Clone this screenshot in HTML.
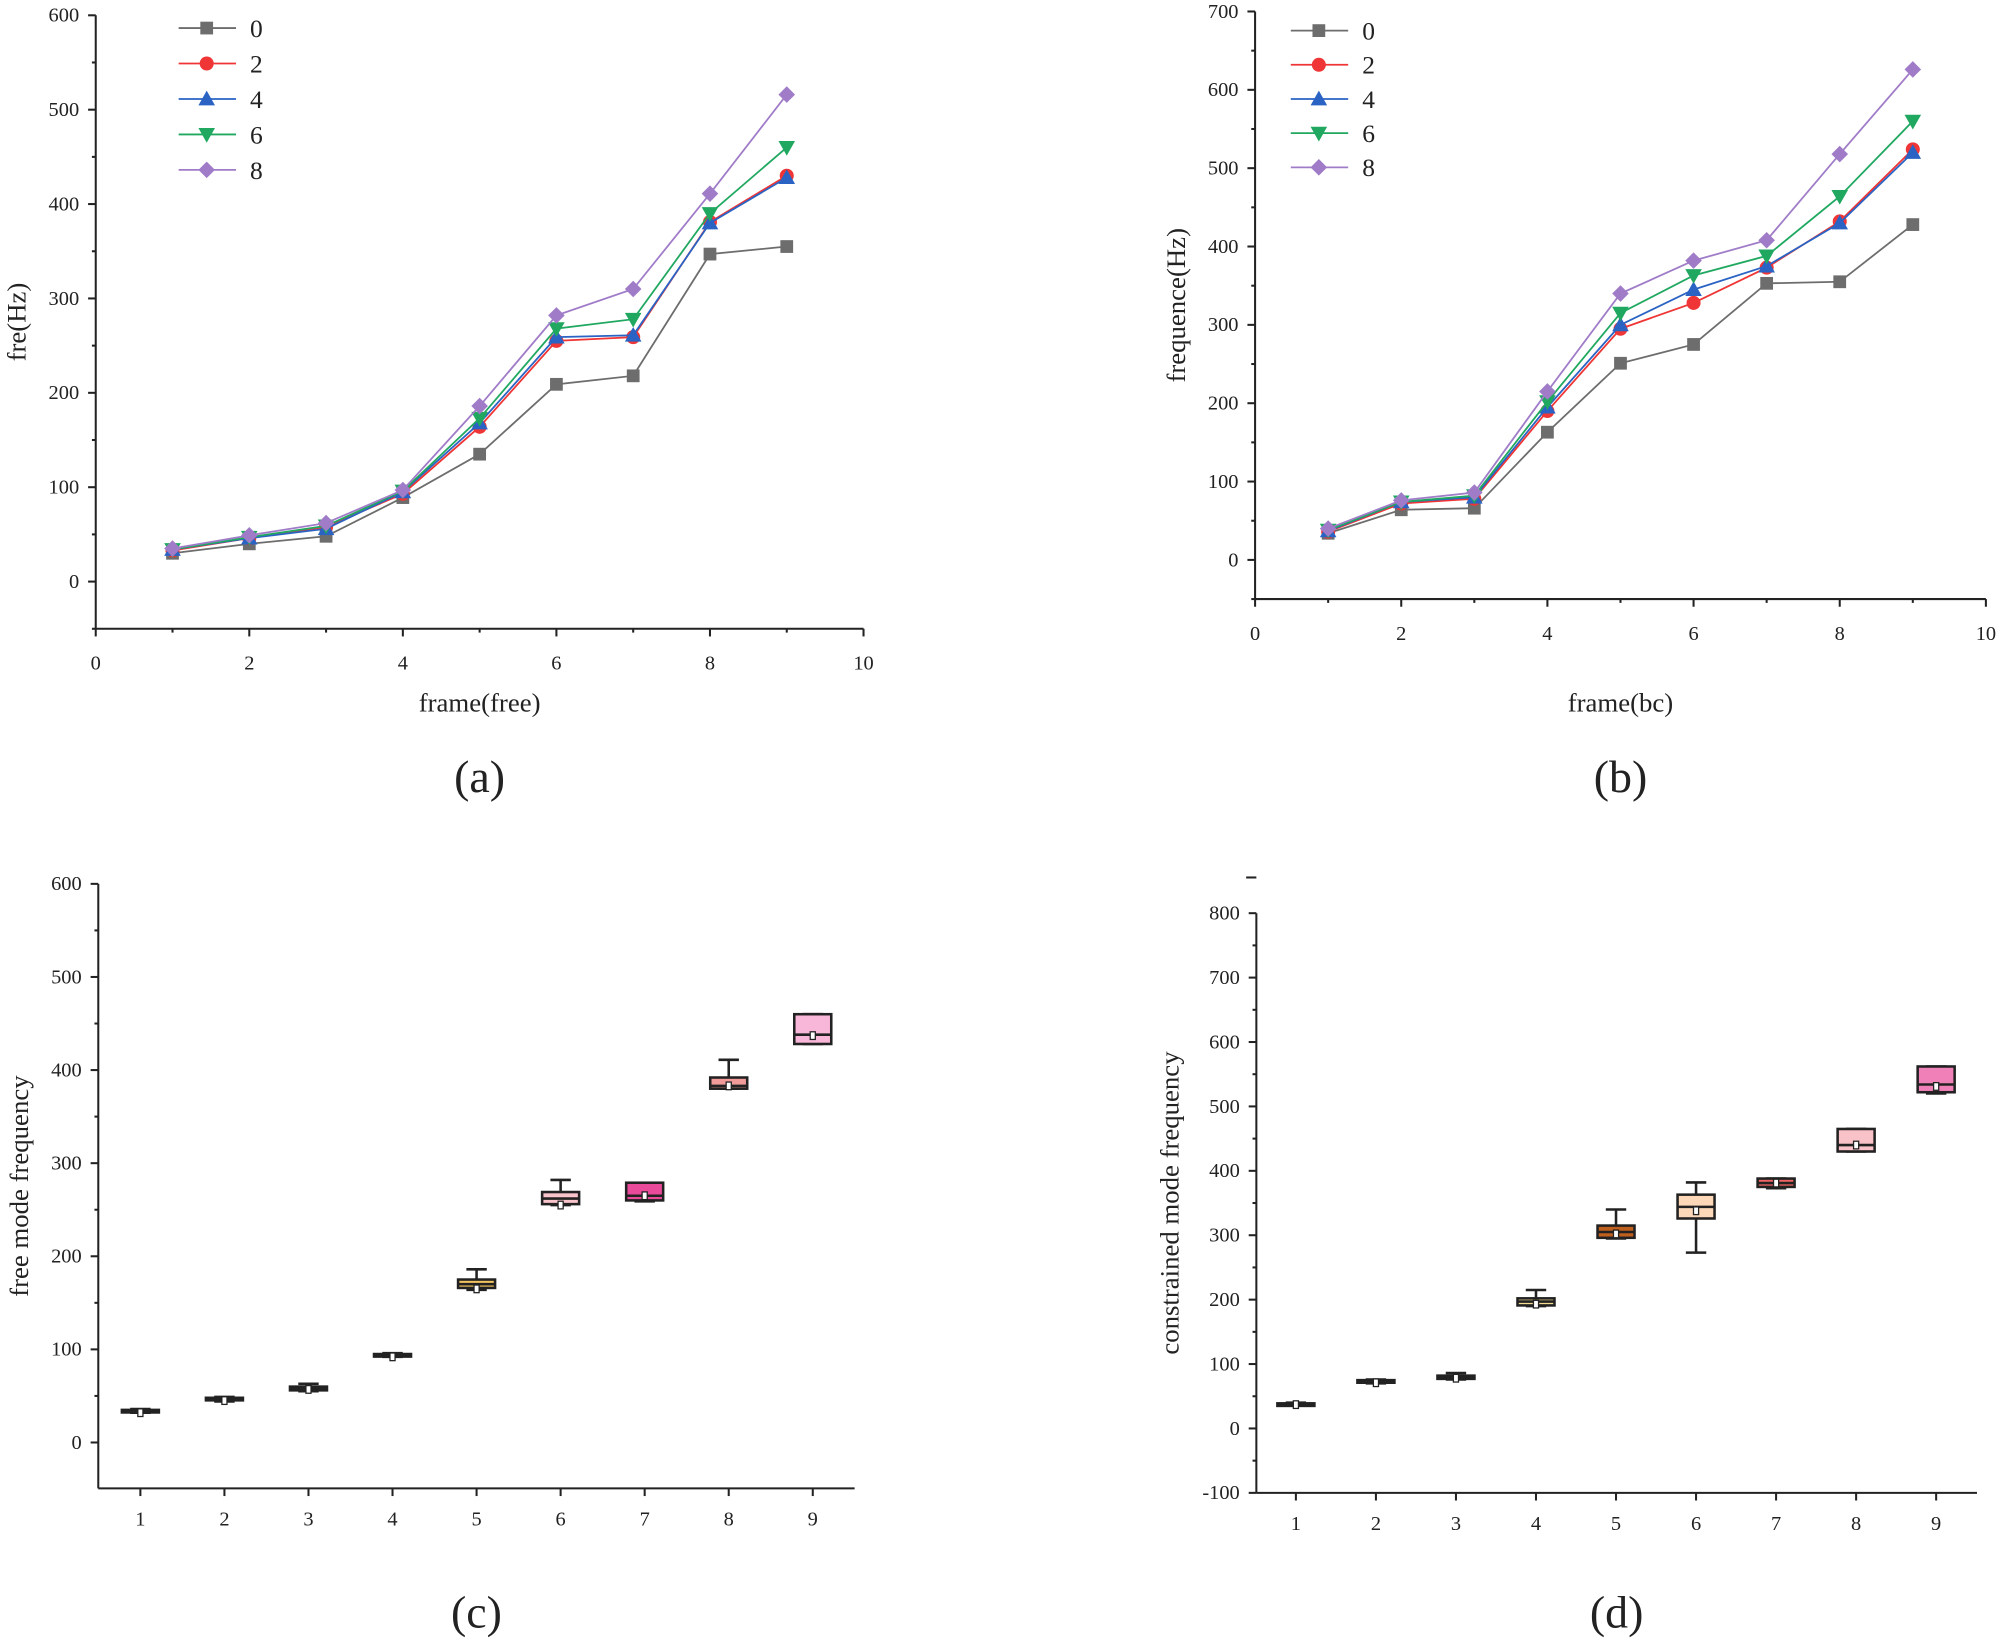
<!DOCTYPE html>
<html><head><meta charset="utf-8"><style>
html,body{margin:0;padding:0;background:#fff}
svg{display:block;font-family:"Liberation Serif",serif}
</style></head><body>
<svg id="s" width="2000" height="1644" viewBox="0 0 1568 1289" xmlns="http://www.w3.org/2000/svg"></svg>
<script>
const frames = [1,2,3,4,5,6,7,8,9];
const seriesNames = ['0','2','4','6','8'];
const aS0 = [30,40,48,89,135,209,218,347,355];
const aS2 = [33,46,58,93,164,255,259,381,430];
const aS4 = [34,46,56,95,168,259,261,380,428];
const aS6 = [34,47,59,96,173,268,278,390,460];
const aS8 = [35,49,62,97,186,282,310,411,516];
const bS0 = [34,64,66,163,251,275,353,355,428];
const bS2 = [36,72,78,190,295,328,373,432,524];
const bS4 = [37,74,80,195,300,345,375,430,520];
const bS6 = [38,74,82,202,315,363,388,464,560];
const bS8 = [40,76,86,215,340,382,408,518,626];
const aTicksY = [0,100,200,300,400,500,600];
const bTicksY = [0,100,200,300,400,500,600,700];
const lineTicksX = [0,2,4,6,8,10];
const boxCats = ['1','2','3','4','5','6','7','8','9'];
const cMin=[32,44,55,92,164,255,259,380,428];
const cQ1=[33,46,56,93,166,256,260,380,428];
const cMed=[34,47,58,94,170,262,265,383,438];
const cQ3=[35,48,60,95,175,269,279,392,460];
const cMax=[36,49,63,96,186,282,279,411,460];
const cMean=[32,45,57,92,165,255,265,383,437];
const dMin=[36,70,76,190,295,273,373,430,520];
const dQ1=[37,71,77,191,296,326,375,430,522];
const dMed=[38,73,80,197,305,344,381,440,534];
const dQ3=[39,75,82,202,315,363,388,465,562];
const dMax=[40,76,86,215,340,382,388,465,562];
const dMean=[37,71,78,193,302,338,381,440,531];
const cTicksY=[0,100,200,300,400,500,600];
const dTicksY=[-100,0,100,200,300,400,500,600,700,800];

const svg=document.getElementById('s');
const NS='http://www.w3.org/2000/svg';
function mk(tag,attrs,parent){const e=document.createElementNS(NS,tag);for(const k in attrs)e.setAttribute(k,attrs[k]);(parent||svg).appendChild(e);return e;}
function txt(x,y,s,size,anchor,parent,rot){const t=mk('text',{x:x,y:y,'font-size':size,'text-anchor':anchor||'middle',fill:'#222'},parent);if(rot)t.setAttribute('transform','rotate(-90 '+x+' '+y+')');t.textContent=s;return t;}

const colors=['#6d6d6d','#ef3535','#2a63c4','#20a860','#a07cc8'];
function marker(g,type,x,y,c){
  let e;
  if(type===0)e=mk('rect',{x:x-5,y:y-5,width:10,height:10,fill:c},g);
  else if(type===1)e=mk('circle',{cx:x,cy:y,r:5.5,fill:c},g);
  else if(type===2)e=mk('polygon',{points:`${x},${y-6.5} ${x+6.5},${y+5} ${x-6.5},${y+5}`,fill:c},g);
  else if(type===3)e=mk('polygon',{points:`${x},${y+6.5} ${x+6.5},${y-5} ${x-6.5},${y-5}`,fill:c},g);
  else e=mk('polygon',{points:`${x},${y-6.5} ${x+6.5},${y} ${x},${y+6.5} ${x-6.5},${y}`,fill:c},g);
  return e;
}

function lineChart(cfg){
  const g=mk('g',{});
  
  
  const X=v=>cfg.x0+(v-0)*(cfg.x1-cfg.x0)/10;
  const Y=v=>cfg.y0-(v)*(cfg.y0-cfg.yTop)/cfg.yMax;
  const yb=Y(-50);
  const ax=mk('g',{stroke:'#222','stroke-width':1.6},g);
  
  mk('line',{x1:cfg.x0,y1:Y(cfg.yMax),x2:cfg.x0,y2:yb},ax);
  mk('line',{x1:cfg.x0,y1:yb,x2:cfg.x1,y2:yb},ax);
  cfg.ticksY.forEach(v=>{mk('line',{x1:cfg.x0-6,y1:Y(v),x2:cfg.x0,y2:Y(v)},ax);txt(cfg.x0-13,Y(v)+5,String(v),16,'end',g);});
  for(let v=-50;v<cfg.yMax;v+=100)mk('line',{x1:cfg.x0-3,y1:Y(v),x2:cfg.x0,y2:Y(v)},ax);
  lineTicksX.forEach(v=>{mk('line',{x1:X(v),y1:yb,x2:X(v),y2:yb+6},ax);txt(X(v),yb+32,String(v),16,'middle',g);});
  for(let v=1;v<10;v+=2)mk('line',{x1:X(v),y1:yb,x2:X(v),y2:yb+3},ax);
  cfg.series.forEach((s,i)=>{
    const sg=mk('g',{},g);
    
    
    mk('polyline',{points:s.map((v,j)=>X(frames[j])+','+Y(v)).join(' '),fill:'none',stroke:colors[i],'stroke-width':1.4},sg);
    s.forEach((v,j)=>marker(sg,i,X(frames[j]),Y(v),colors[i]));
  });
  const lg=mk('g',{},g);
  
  seriesNames.forEach((n,i)=>{
    const y=cfg.legY+i*cfg.legDy;
    const e=mk('g',{},lg);
    
    mk('line',{x1:cfg.legX,y1:y,x2:cfg.legX+45,y2:y,stroke:colors[i],'stroke-width':1.4},e);
    marker(e,i,cfg.legX+22,y,colors[i]);
    txt(cfg.legX+56,y+7,n,20,'start',e);
  });
  txt((cfg.x0+cfg.x1)/2,558,cfg.xTitle,21,'middle',g);
  txt(cfg.yTitleX,(cfg.yTop+yb)/2,cfg.yTitle,21,'middle',g,true);
  txt((cfg.x0+cfg.x1)/2,621,cfg.label,36,'middle',g);
}

lineChart({name:'chart-a',x0:75,x1:677,y0:456,yTop:12,yMax:600,ticksY:aTicksY,series:[aS0,aS2,aS4,aS6,aS8],legX:140,legY:22,legDy:27.8,xTitle:'frame(free)',yTitle:'fre(Hz)',yTitleX:20,label:'(a)'});
lineChart({name:'chart-b',x0:984,x1:1557,y0:439,yTop:9,yMax:700,ticksY:bTicksY,series:[bS0,bS2,bS4,bS6,bS8],legX:1012,legY:24,legDy:26.8,xTitle:'frame(bc)',yTitle:'frequence(Hz)',yTitleX:929,label:'(b)'});

function boxChart(cfg){
  const g=mk('g',{});
  
  
  const Y=v=>cfg.y0-v*cfg.k;
  const X=i=>cfg.cx0+i*cfg.dx;
  const yb=cfg.yb;
  const ax=mk('g',{stroke:'#222','stroke-width':1.6},g);
  
  mk('line',{x1:cfg.x0,y1:cfg.yTopAxis,x2:cfg.x0,y2:yb},ax);
  mk('line',{x1:cfg.x0,y1:yb,x2:cfg.x1,y2:yb},ax);
  cfg.ticksY.forEach(v=>{mk('line',{x1:cfg.x0-6,y1:Y(v),x2:cfg.x0,y2:Y(v)},ax);txt(cfg.x0-13,Y(v)+5,String(v),16,'end',g);});
  for(let v=cfg.ticksY[0]+50;v<cfg.ticksY[cfg.ticksY.length-1];v+=100)mk('line',{x1:cfg.x0-3,y1:Y(v),x2:cfg.x0,y2:Y(v)},ax);
  boxCats.forEach((c,i)=>{mk('line',{x1:X(i),y1:yb,x2:X(i),y2:yb+6},ax);txt(X(i),yb+29,c,16,'middle',g);});
  boxCats.forEach((c,i)=>{
    const bg=mk('g',{stroke:'#222','stroke-width':2},g);
    
    
    const x=X(i),hw=14.5;
    mk('line',{x1:x,y1:Y(cfg.max[i]),x2:x,y2:Y(cfg.q3[i])},bg);
    mk('line',{x1:x-8,y1:Y(cfg.max[i]),x2:x+8,y2:Y(cfg.max[i])},bg);
    mk('line',{x1:x,y1:Y(cfg.min[i]),x2:x,y2:Y(cfg.q1[i])},bg);
    mk('line',{x1:x-8,y1:Y(cfg.min[i]),x2:x+8,y2:Y(cfg.min[i])},bg);
    mk('rect',{x:x-hw,y:Y(cfg.q3[i]),width:hw*2,height:Math.max(2,Y(cfg.q1[i])-Y(cfg.q3[i])),fill:cfg.fills[i]},bg);
    mk('line',{x1:x-hw,y1:Y(cfg.med[i]),x2:x+hw,y2:Y(cfg.med[i])},bg);
    mk('rect',{x:x-2,y:Y(cfg.mean[i])-3,width:4,height:6,fill:'#fff','stroke-width':1},bg);
  });
  txt(cfg.yTitleX,(cfg.yTopAxis+yb)/2,cfg.yTitle,21,'middle',g,true);
  txt((cfg.x0+cfg.x1)/2,1276,cfg.label,36,'middle',g);
}

boxChart({name:'chart-c',x0:77,x1:670,yb:1167,yTopAxis:693,y0:1131,k:0.73,cx0:110,dx:65.9,ticksY:cTicksY,min:cMin,q1:cQ1,med:cMed,q3:cQ3,max:cMax,mean:cMean,fills:['#333','#333','#333','#333','#f2c35e','#f9c4cc','#ea4a9a','#f09a9a','#f8b6d8'],yTitle:'free mode frequency',yTitleX:22,label:'(c)'});
boxChart({name:'chart-d',x0:985,x1:1550,yb:1170.5,yTopAxis:716,y0:1120,k:0.505,cx0:1016,dx:62.75,ticksY:dTicksY,min:dMin,q1:dQ1,med:dMed,q3:dQ3,max:dMax,mean:dMean,fills:['#333','#333','#333','#f5dc90','#c0601e','#fdd8b8','#f06464','#f8c2c8','#f080b8'],yTitle:'constrained mode frequency',yTitleX:924,label:'(d)'});
mk('line',{x1:977,y1:688,x2:985,y2:688,stroke:'#222','stroke-width':1.6});
</script>
</body></html>
